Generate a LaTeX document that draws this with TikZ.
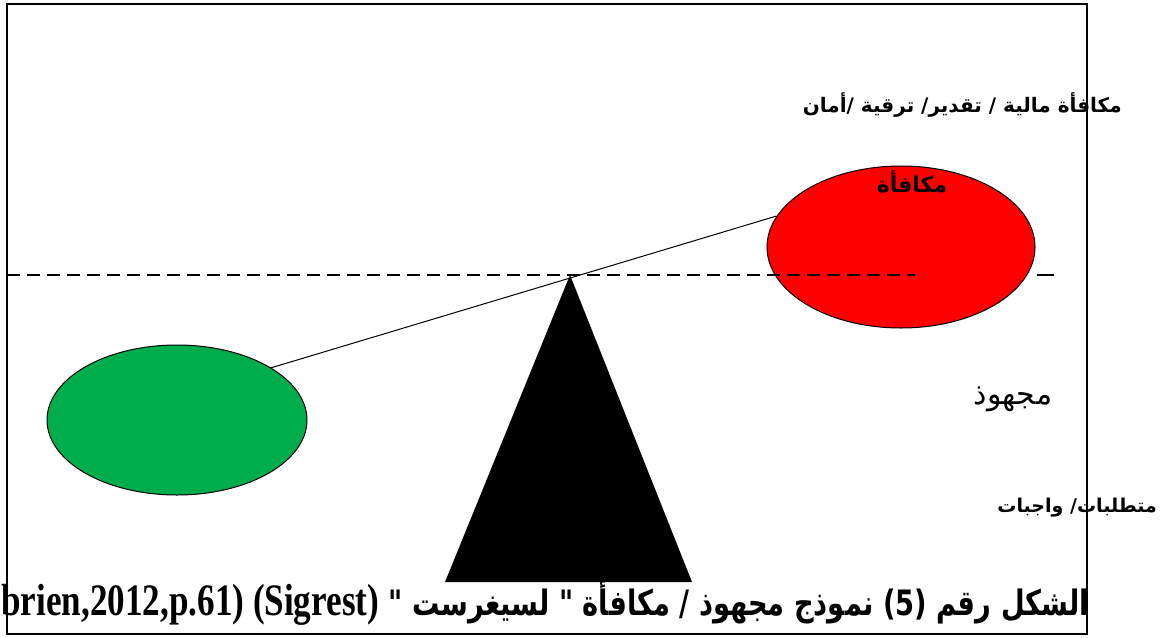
\documentclass[tikz,border=0pt]{standalone}
\usepackage{fontspec}
\newfontfamily\arabicfont[Script=Arabic]{DejaVu Sans}
\newfontfamily\latinfont{Liberation Serif}
\TeXXeTstate=1
\usetikzlibrary{shapes.geometric}

\begin{document}
\begin{tikzpicture}[x=1pt, y=-1pt,
    pan/.style={draw, ellipse, line width=1pt, inner sep=0pt},
    note/.style={inner sep=0pt, font=\arabicfont\bfseries\fontsize{20}{24}\selectfont}]
    \useasboundingbox (0,0) rectangle (1164,637);

    % Frame
    \draw[line width=2pt] (7,4) rectangle (1087,634);

    % Pans of the balance
    \node[pan, fill={rgb,255:red,0;green,173;blue,76}, minimum width=260pt, minimum height=150pt] (effort) at (177,420) {};
    \node[pan, fill=red, minimum width=268pt, minimum height=162pt] (reward) at (901,247) {};

    % Beam and pivot
    \coordinate (apex) at (570,275);
    \coordinate (baseL) at (445,582);
    \coordinate (baseR) at (692,582);
    \draw[line width=1pt] (effort.29) -- (reward.166);
    \fill (apex) -- (baseR) -- (baseL) -- cycle;

    % Level line
    \coordinate (levelL) at (7,275);
    \coordinate (levelR) at (915,275);
    \draw[line width=1.6pt, dash pattern=on 13pt off 7pt] (levelL) -- (levelR);
    \draw[line width=1.6pt] (1037,275) -- (1054,275);

    % Labels
    \node[note, font=\arabicfont\bfseries\fontsize{22}{26}\selectfont] (rewardlbl) at (912,182) {\beginR مكافأة\endR};
    \node[note, anchor=east] (rewardlist) at (1122,105) {\beginR مكافأة مالية / تقدير/ ترقية /أمان\endR};
    \node[note, font=\arabicfont\fontsize{30}{34}\selectfont] (effortlbl) at (1013,399) {\beginR مجهوذ\endR};
    \node[note, anchor=east, font=\arabicfont\bfseries\fontsize{19}{23}\selectfont] (effortlist) at (1157,508) {\beginR متطلبات/ واجبات\endR};

    % Caption
    \node[note, anchor=east, font=\arabicfont\bfseries\fontsize{35}{40}\selectfont] (caption) at (1089,603)
        {\scalebox{0.78}[1]{{\latinfont\fontsize{45}{49}\selectfont (Obrien,2012,p.61) (Sigrest)} \beginR نموذج مجهوذ / مكافأة " لسيغرست "\endR\ (5) \beginR الشكل رقم\endR}};
\end{tikzpicture}
\end{document}
